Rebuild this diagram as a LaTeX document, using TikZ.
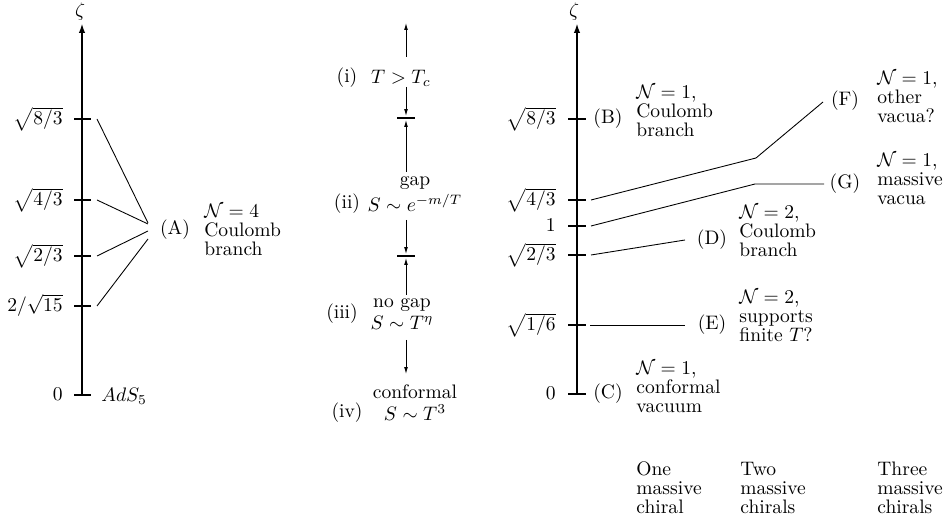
\documentclass[tikz,border=0pt]{standalone}
\usepackage{amsmath}
\usetikzlibrary{arrows.meta}
\begin{document}
\begin{tikzpicture}[x=0.512pt,y=-0.512pt,
  axis/.style={line width=1.1pt},
  fineline/.style={line width=0.45pt},
  bigtip/.style={-{Latex[length=5pt,width=3.2pt]}},
  smalltip/.style={-{Latex[length=3.5pt,width=1.9pt]}},
  txt/.style={inner sep=0pt, font=\fontsize{10}{9.8}\selectfont},
  blk/.style={txt, align=left, anchor=west},
  tlab/.style={inner sep=0pt, anchor=base east}]
\useasboundingbox (0,0) rectangle (947,520);

% ---------- left axis ----------
\coordinate (L0) at (82,395);
\coordinate (Ltop) at (82,23);
\draw[axis,bigtip] (L0) -- (Ltop);
\node[txt] (zetaL) at (80,12) {$\zeta$};
\foreach \y/\t/\n in {119/{\sqrt{8/3}}/a, 200/{\sqrt{4/3}}/b, 256/{\sqrt{2/3}}/c, 306/{2/\sqrt{15}}/d, 395/{0}/e}{
  \draw[axis] (74,\y) -- (91,\y);
  \node[tlab] (lt\n) at (63,\y+6) {$\t$};
}
\node[txt] (A) at (175,230) {(A)};
\node[blk] (Atext) at (204,230) {$\mathcal{N}=4$\\Coulomb\\branch};
\node[txt, anchor=west] (ads) at (101,396) {$AdS_5$};
\coordinate (a1) at (97,119);  \coordinate (A1) at (148,223);
\coordinate (a2) at (97,200);  \coordinate (A2) at (148,224);
\coordinate (a3) at (97,256);  \coordinate (A3) at (148,231);
\coordinate (a4) at (97,306);  \coordinate (A4) at (148,239);
\draw[fineline] (a1) -- (A1);
\draw[fineline] (a2) -- (A2);
\draw[fineline] (a3) -- (A3);
\draw[fineline] (a4) -- (A4);

% ---------- middle column ----------
\coordinate (m1s) at (406,57);  \coordinate (m1e) at (406,23);
\coordinate (m2s) at (406,87);  \coordinate (m2e) at (406,116);
\coordinate (m3s) at (406,172); \coordinate (m3e) at (406,120);
\coordinate (m4s) at (406,220); \coordinate (m4e) at (406,254);
\coordinate (m5s) at (406,295); \coordinate (m5e) at (406,258);
\coordinate (m6s) at (406,340); \coordinate (m6e) at (406,374);
\draw[fineline,smalltip] (m1s) -- (m1e);
\draw[fineline,smalltip] (m2s) -- (m2e);
\draw[fineline,smalltip] (m3s) -- (m3e);
\draw[fineline,smalltip] (m4s) -- (m4e);
\draw[fineline,smalltip] (m5s) -- (m5e);
\draw[fineline,smalltip] (m6s) -- (m6e);
\draw[line width=0.6pt] (397,118) -- (415,118);
\draw[line width=0.6pt] (397,256) -- (415,256);
\node[txt] (i) at (347,78) {(i)};
\node[txt] (ic) at (401,78) {$T>T_c$};
\node[txt] (ii) at (347,204) {(ii)};
\node[txt, align=center] (iic) at (415,194) {gap\\[1.5pt]$S\sim e^{-m/T}$};
\node[txt] (iii) at (342,314) {(iii)};
\node[txt, align=center] (iiic) at (402,314) {no gap\\[1.5pt]$S\sim T^{\eta}$};
\node[txt] (iv) at (347,413) {(iv)};
\node[txt, align=center] (ivc) at (415,403) {conformal\\[1.5pt]$S\sim T^{3}$};

% ---------- right axis ----------
\coordinate (R0) at (577,394);
\coordinate (Rtop) at (577,23);
\draw[axis,bigtip] (R0) -- (Rtop);
\node[txt] (zetaR) at (574,12) {$\zeta$};
\foreach \y/\t/\n in {119/{\sqrt{8/3}}/a, 200/{\sqrt{4/3}}/b, 226/{1}/c, 255/{\sqrt{2/3}}/d, 325/{\sqrt{1/6}}/e, 394/{0}/f}{
  \draw[axis] (568,\y) -- (586,\y);
  \node[tlab] (rt\n) at (556,\y+6) {$\t$};
}
\coordinate (b1) at (591,200); \coordinate (k1) at (756,158); \coordinate (F1) at (823,102);
\coordinate (b2) at (591,226); \coordinate (k2) at (755,184); \coordinate (G1) at (824,184);
\coordinate (b3) at (591,255); \coordinate (D1) at (685,240);
\coordinate (b4) at (590,325); \coordinate (E1) at (685,325);
\draw[fineline] (b1) -- (k1) -- (F1);
\draw[fineline] (b2) -- (k2) -- (G1);
\draw[fineline] (b3) -- (D1);
\draw[fineline] (b4) -- (E1);

\node[txt] (B) at (608,119) {(B)};
\node[blk] (Btext) at (636,111) {$\mathcal{N}=1$,\\Coulomb\\branch};
\node[txt] (C) at (608,394) {(C)};
\node[blk] (Ctext) at (636,387) {$\mathcal{N}=1$,\\conformal\\vacuum};
\node[txt] (D) at (712,240) {(D)};
\node[blk] (Dtext) at (739,231) {$\mathcal{N}=2$,\\Coulomb\\branch};
\node[txt] (E) at (712,325) {(E)};
\node[blk] (Etext) at (739,316) {$\mathcal{N}=2$,\\supports\\finite $T$?};
\node[txt] (F) at (845,101) {(F)};
\node[blk] (Ftext) at (877,97) {$\mathcal{N}=1$,\\other\\vacua?};
\node[txt] (G) at (845,184) {(G)};
\node[blk] (Gtext) at (877,179) {$\mathcal{N}=1$,\\massive\\vacua};

\node[blk] (one) at (636,488) {One\\massive\\chiral};
\node[blk] (two) at (740,488) {Two\\massive\\chirals};
\node[blk] (three) at (877,488) {Three\\massive\\chirals};
\end{tikzpicture}
\end{document}
